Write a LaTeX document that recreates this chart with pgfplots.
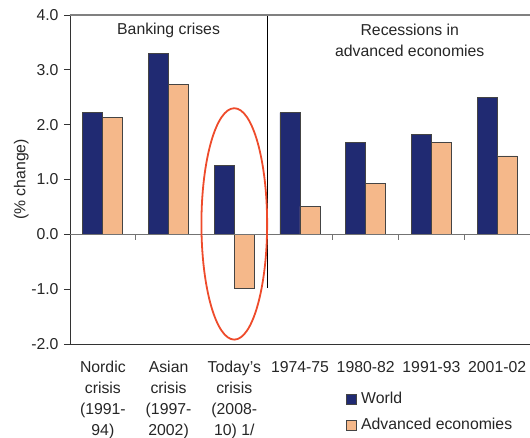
\documentclass[border=0pt]{standalone}
\usepackage{pgfplots}
\pgfplotsset{compat=1.18}
\usepackage{fontspec}
\setmainfont{Liberation Sans}
\definecolor{navy}{HTML}{202A72}
\definecolor{peach}{HTML}{F5B88A}
\definecolor{redc}{HTML}{EE4B2B}
\definecolor{edge}{HTML}{444444}
\begin{document}
\fontsize{15.8}{21}\selectfont
\begin{tikzpicture}
\path[use as bounding box] (0,0) rectangle (530pt,438pt);
\begin{axis}[
  at={(70pt,94pt)}, anchor=south west,
  width=460pt, height=329pt, scale only axis,
  xmin=-0.5, xmax=6.5, ymin=-2, ymax=4,
  ybar=0pt, bar width=20pt,
  axis x line=bottom, axis y line=left,
  axis line style={-, draw=black!80, line width=0.8pt},
  ytick={-2,-1,0,1,2,3,4},
  yticklabels={-2.0,-1.0,0.0,1.0,2.0,3.0,4.0},
  ytick style={draw=black!80, line width=0.8pt},
  tick align=outside, major tick length=6pt,
  xtick={0,1,2,3,4,5,6},
  xtick style={draw=none},
  xticklabels={{Nordic\\crisis\\(1991-\\94)},{Asian\\crisis\\(1997-\\2002)},{Today's\\crisis\\(2008-\\10) 1/},1974-75,1980-82,1991-93,2001-02},
  xticklabel style={align=center, anchor=north, yshift=-6pt, font=\fontsize{15.8}{21}\selectfont, text=black!85},
  yticklabel style={font=\fontsize{15.8}{21}\selectfont, text=black!85},
  ylabel={(\% change)},
  ylabel shift=-8pt,
  ylabel style={font=\fontsize{15.8}{21}\selectfont, text=black!85},
  legend style={at={(rel axis cs:0.594,-0.137)}, anchor=north west, draw=none, fill=none,
    font=\fontsize{15.8}{21}\selectfont, text=black!85, row sep=10pt,
    nodes={inner ysep=1pt, inner xsep=4pt}},
  legend cell align=left,
  legend image code/.code={\draw[#1,line width=0.7pt] (0pt,-5pt) rectangle (10pt,5pt);},
  clip=false,
]
\addplot[fill=navy, draw=edge, line width=0.8pt] coordinates {(0,2.22) (1,3.30) (2,1.26) (3,2.22) (4,1.68) (5,1.82) (6,2.50)};
\addplot[fill=peach, draw=edge, line width=0.8pt] coordinates {(0,2.13) (1,2.73) (2,-0.98) (3,0.51) (4,0.93) (5,1.68) (6,1.43)};
\legend{World, Advanced economies}
\draw[black!55, line width=0.8pt] (axis cs:-0.5,0) -- (axis cs:6.5,0);
\draw[black!55, line width=0.8pt] (axis cs:0.5,0) -- (axis cs:0.5,-0.11);
\draw[black!55, line width=0.8pt] (axis cs:1.5,0) -- (axis cs:1.5,-0.11);
\draw[black!55, line width=0.8pt] (axis cs:3.5,0) -- (axis cs:3.5,-0.11);
\draw[black!55, line width=0.8pt] (axis cs:4.5,0) -- (axis cs:4.5,-0.11);
\draw[black!55, line width=0.8pt] (axis cs:5.5,0) -- (axis cs:5.5,-0.11);
\draw[black, line width=0.7pt] (axis cs:2.5,4) -- (axis cs:2.5,-0.97);
\draw[black!50, line width=1.2pt] (axis cs:-0.5,4) -- (axis cs:6.5,4);
\draw[redc, line width=1.8pt] (axis cs:2,0.19) ellipse [x radius=0.5, y radius=2.11];
\node[font=\fontsize{15.8}{21}\selectfont, text=black!85] at (axis cs:1,3.72) {Banking crises};
\node[font=\fontsize{15.8}{21}\selectfont, text=black!85, align=center] at (axis cs:4.67,3.53) {Recessions in\\advanced economies};
\end{axis}
\end{tikzpicture}
\end{document}
